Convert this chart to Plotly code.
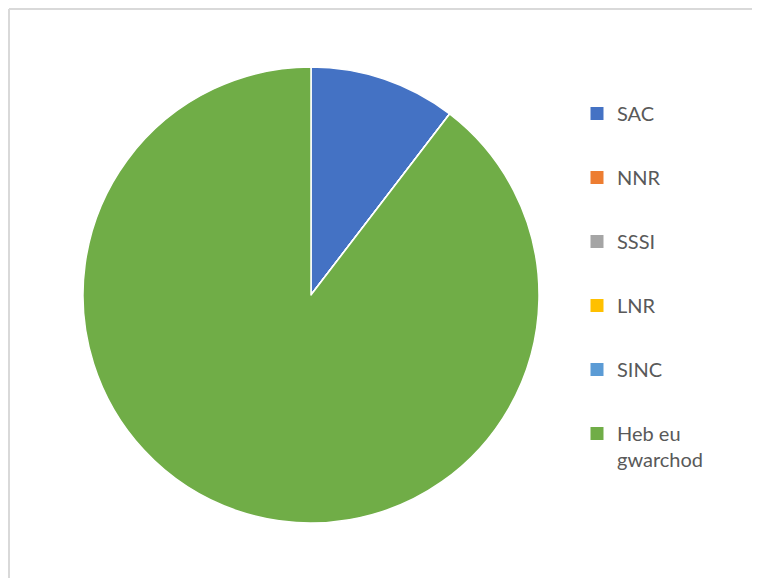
import plotly.graph_objects as go

labels = ["SAC", "NNR", "SSSI", "LNR", "SINC", "Heb eu gwarchod"]
legend_labels = ["SAC", "NNR", "SSSI", "LNR", "SINC", "Heb eu<br>gwarchod"]
values = [10.4, 0, 0, 0, 0, 89.6]
colors = ["#4472C4", "#ED7D31", "#A5A5A5", "#FFC000", "#5B9BD5", "#70AD47"]

W, H = 760, 578
OFF = 8  # page body margin offset


def px_x(v):
    return (v - OFF) / W


def px_y(v):
    return 1 - (v - OFF) / H


fig = go.Figure()
fig.add_trace(go.Pie(
    labels=labels, values=values, sort=False, direction="clockwise", rotation=0,
    marker=dict(colors=colors, line=dict(color="white", width=1.5)),
    textinfo="none", showlegend=False,
    domain=dict(x=[px_x(83), px_x(539)], y=[px_y(523), px_y(67)]),
))
for i, (lab, col) in enumerate(zip(legend_labels, colors)):
    fig.add_trace(go.Scatter(
        x=[None], y=[None], mode="markers", name=lab,
        marker=dict(symbol="square", size=13, color=col),
        legendgroup=f"g{i}", showlegend=True,
    ))

border = dict(color="#d9d9d9", width=2)
fig.update_layout(
    width=W, height=H, margin=dict(l=0, r=0, t=0, b=0),
    paper_bgcolor="white", plot_bgcolor="white",
    xaxis=dict(visible=False), yaxis=dict(visible=False),
    font=dict(family="Lato, Open Sans, sans-serif", size=20, color="#595959"),
    legend=dict(x=px_x(577), y=px_y(94), xanchor="left", yanchor="top",
                tracegroupgap=35, valign="top", itemclick=False,
                font=dict(size=20, color="#595959")),
    shapes=[
        dict(type="line", xref="paper", yref="paper",
             x0=1 / W, x1=1.0, y0=1 - 1 / H, y1=1 - 1 / H, line=border),
        dict(type="line", xref="paper", yref="paper",
             x0=1 / W, x1=1 / W, y0=0, y1=1 - 1 / H, line=border),
    ],
)
fig.write_html("out.html", config={"displayModeBar": False})
